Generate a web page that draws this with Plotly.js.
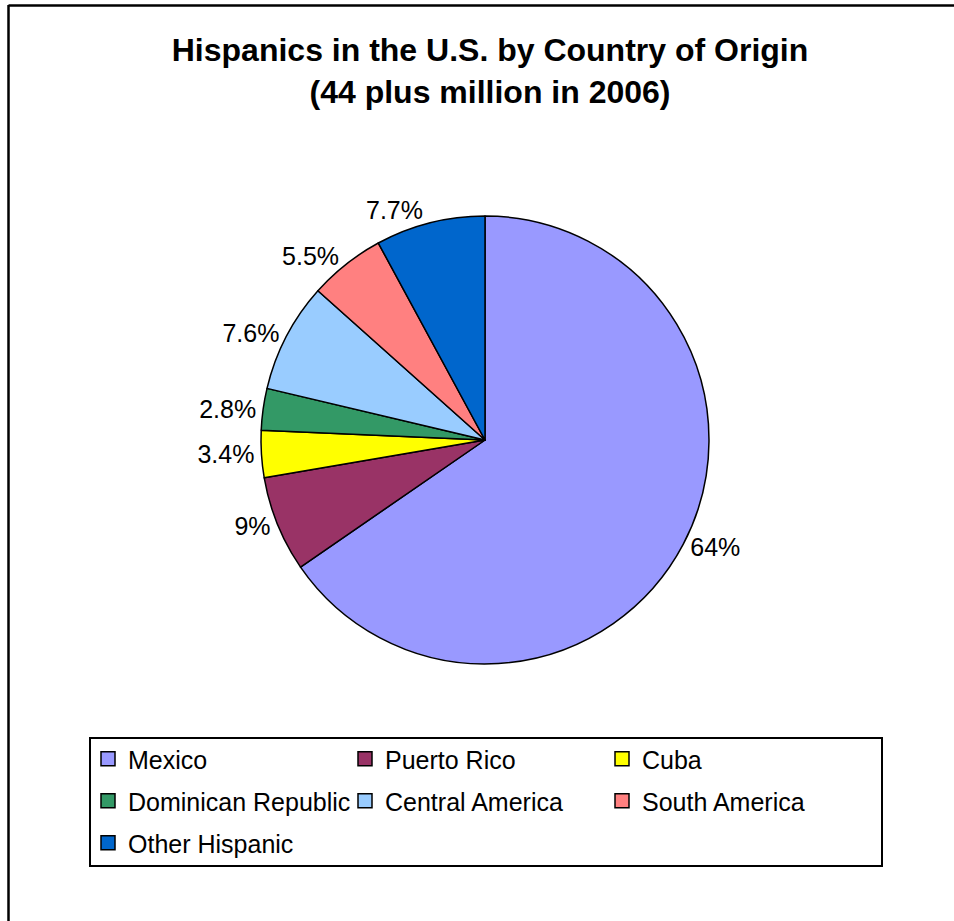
<!DOCTYPE html>
<html>
<head>
<meta charset="utf-8">
<script src="https://cdn.plot.ly/plotly-3.0.1.min.js"></script>
<style>html,body{margin:0;padding:0;background:#fff;}#chart{width:954px;height:921px;}</style>
</head>
<body>
<div id="chart"></div>
<script>
// Data
const categories = ["Mexico", "Puerto Rico", "Cuba", "Dominican Republic", "Central America", "South America", "Other Hispanic"];
const sliceValues = [65.4, 6.9, 3.4, 3.0, 7.9, 5.5, 7.9];   // slice sizes as drawn
const sliceLabels = ["64%", "9%", "3.4%", "2.8%", "7.6%", "5.5%", "7.7%"]; // printed labels
const sliceColors = ["#9999FF", "#993366", "#FFFF00", "#339966", "#99CCFF", "#FF8080", "#0066CC"];

const W = 954, H = 921;
const px = x => x / W;
const py = y => 1 - y / H;
const FONT = "Liberation Sans, Arial, sans-serif";

const traces = [{
  type: "pie",
  labels: categories,
  values: sliceValues,
  text: sliceLabels,
  textinfo: "text",
  textposition: "outside",
  sort: false,
  direction: "clockwise",
  rotation: 0,
  marker: {colors: sliceColors, line: {color: "#000", width: 1.5}},
  outsidetextfont: {family: FONT, size: 25, color: "#000"},
  showlegend: false,
  hoverinfo: "label+percent",
  domain: {x: [px(261), px(709)], y: [py(664), py(216)]}
}];

// legend entries (three rows, three per row)
const legendNames = ["legend", "legend2", "legend3"];
categories.forEach((c, i) => {
  traces.push({
    type: "scatter", mode: "markers", x: [null], y: [null],
    name: c, showlegend: true,
    legend: legendNames[Math.floor(i / 3)],
    marker: {symbol: "square", size: 14, color: sliceColors[i], line: {color: "#000", width: 1.5}},
    hoverinfo: "skip"
  });
});

function legendRow(yc) {
  return {
    orientation: "h", x: px(88), xanchor: "left", y: py(yc), yanchor: "middle",
    font: {family: FONT, size: 25, color: "#000"},
    entrywidth: 212, entrywidthmode: "pixels",
    itemwidth: 30, bgcolor: "rgba(0,0,0,0)", borderwidth: 0,
    traceorder: "normal"
  };
}

const layout = {
  width: W, height: H,
  margin: {l: 0, r: 0, t: 0, b: 0},
  paper_bgcolor: "#fff", plot_bgcolor: "#fff",
  title: {
    text: "Hispanics in the U.S. by Country of Origin<br>(44 plus million in 2006)",
    font: {family: FONT, size: 32, color: "#000", weight: "bold"},
    x: px(490), xanchor: "center", xref: "paper",
    y: py(61), yanchor: "top", yref: "paper"
  },
  xaxis: {visible: false, domain: [0, 0.01]},
  yaxis: {visible: false, domain: [0, 0.01]},
  legend: legendRow(759),
  legend2: legendRow(801),
  legend3: legendRow(843),
  shapes: [
    {type: "rect", xref: "paper", yref: "paper", x0: px(90), x1: px(882), y0: py(866), y1: py(738),
     line: {color: "#000", width: 2}, fillcolor: "rgba(0,0,0,0)", layer: "below"},
    {type: "line", xref: "paper", yref: "paper", x0: px(8.5), x1: px(8.5), y0: 0, y1: py(5), line: {color: "#000", width: 2.5}},
    {type: "line", xref: "paper", yref: "paper", x0: px(8.5), x1: 1, y0: py(5.5), y1: py(5.5), line: {color: "#000", width: 2.5}}
  ],
  showlegend: true
};

Plotly.newPlot("chart", traces, layout, {displayModeBar: false, staticPlot: true});
</script>
</body>
</html>
